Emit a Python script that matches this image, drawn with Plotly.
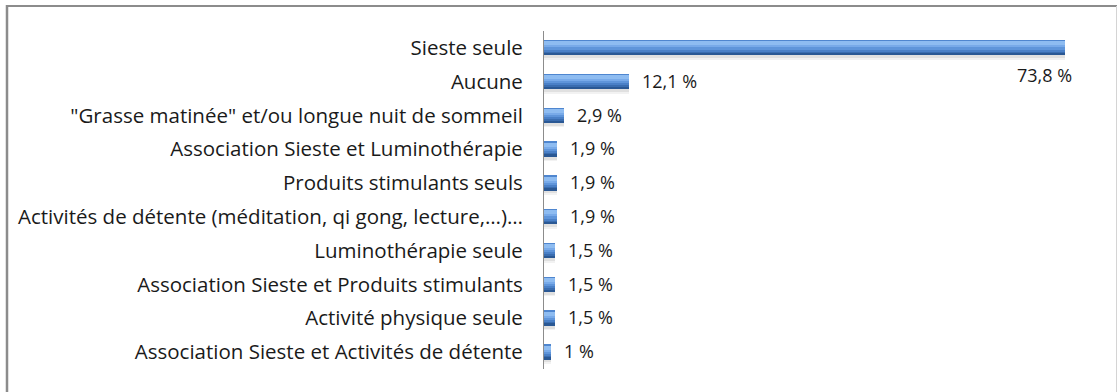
import plotly.graph_objects as go

# Catégories (de haut en bas) et pourcentages
categories = [
    "Sieste seule",
    "Aucune",
    "\"Grasse matinée\" et/ou longue nuit de sommeil",
    "Association Sieste et Luminothérapie",
    "Produits stimulants seuls",
    "Activités de détente (méditation, qi gong, lecture,…)…",
    "Luminothérapie seule",
    "Association Sieste et Produits stimulants",
    "Activité physique seule",
    "Association Sieste et Activités de détente",
]
values = [73.8, 12.1, 2.9, 1.9, 1.9, 1.9, 1.5, 1.5, 1.5, 1.0]


def fmt(v):
    if float(v).is_integer():
        return f"{int(v)} %"
    return f"{v:.1f}".replace(".", ",") + " %"


labels = [fmt(v) for v in values]

FONT = "Open Sans, Carlito, Calibri, sans-serif"
BAR_W = 0.444  # épaisseur des barres (unités de catégorie)
top = -BAR_W / 2

fig = go.Figure()

# Ombre portée sous chaque barre
for color, off in [("rgba(0,0,0,0.05)", 0.13), ("rgba(0,0,0,0.07)", 0.08)]:
    fig.add_trace(go.Bar(
        x=values, y=categories, orientation="h",
        width=BAR_W, offset=top + off,
        marker=dict(color=color, line=dict(width=0)),
        hoverinfo="skip", showlegend=False,
    ))

# Bandes horizontales formant le dégradé cylindrique (haut -> bas)
bands = [
    ("#4f86cf", 0.000, 0.030),
    ("#8ebcf1", 0.030, 0.150),
    ("#78aae9", 0.150, 0.210),
    ("#5f95da", 0.210, 0.270),
    ("#4a80c7", 0.270, 0.330),
    ("#3a6db0", 0.330, 0.390),
    ("#2a5894", 0.390, BAR_W),
]
for color, a, b in bands:
    fig.add_trace(go.Bar(
        x=values, y=categories, orientation="h",
        width=b - a, offset=top + a,
        marker=dict(color=color, line=dict(width=0)),
        hoverinfo="skip", showlegend=False,
    ))

# Étiquettes de valeurs
annotations = []
for i, (cat, v, lab) in enumerate(zip(categories, values, labels)):
    if i == 0:
        annotations.append(dict(
            x=v, y=cat, text=lab, showarrow=False,
            xanchor="right", yanchor="middle", xshift=9, yshift=-27,
            font=dict(family=FONT, size=18, color="#1a1a1a"),
        ))
    else:
        annotations.append(dict(
            x=v, y=cat, text=lab, showarrow=False,
            xanchor="left", yanchor="middle", xshift=11, yshift=1,
            font=dict(family=FONT, size=18, color="#1a1a1a"),
        ))

# Cadre du graphique
L, R, T, B = 544, 1100, 31, 369
W, H = R - L, B - T


def px(x):
    return (x - L) / W


def py(y):
    return (B - y) / H


shapes = [
    dict(type="line", xref="paper", yref="paper",
         x0=px(6), x1=px(1117), y0=py(6), y1=py(6),
         line=dict(color="#8c8c8c", width=2)),
    dict(type="line", xref="paper", yref="paper",
         x0=px(7), x1=px(7), y0=py(5), y1=py(395),
         line=dict(color="#8c8c8c", width=2.5)),
    dict(type="line", xref="paper", yref="paper",
         x0=px(1116.5), x1=px(1116.5), y0=py(6), y1=py(395),
         line=dict(color="#d4d4d4", width=1)),
]

fig.update_layout(
    width=1118,
    height=392,
    margin=dict(l=L, r=1118 - R, t=T, b=392 - B),
    paper_bgcolor="white",
    plot_bgcolor="white",
    barmode="overlay",
    bargap=0,
    annotations=annotations,
    shapes=shapes,
    xaxis=dict(
        range=[0, 73.8 * W / (1065 - L)],
        visible=False,
        fixedrange=True,
    ),
    yaxis=dict(
        categoryorder="array",
        categoryarray=categories,
        range=[len(categories) - 0.5, -0.5],
        showgrid=False,
        zeroline=False,
        showline=True,
        linecolor="#8c8c8c",
        linewidth=1,
        ticks="",
        ticklabelstandoff=16,
        tickfont=dict(family=FONT, size=20.5, color="#1a1a1a"),
        fixedrange=True,
    ),
)

fig.write_html("out.html")
